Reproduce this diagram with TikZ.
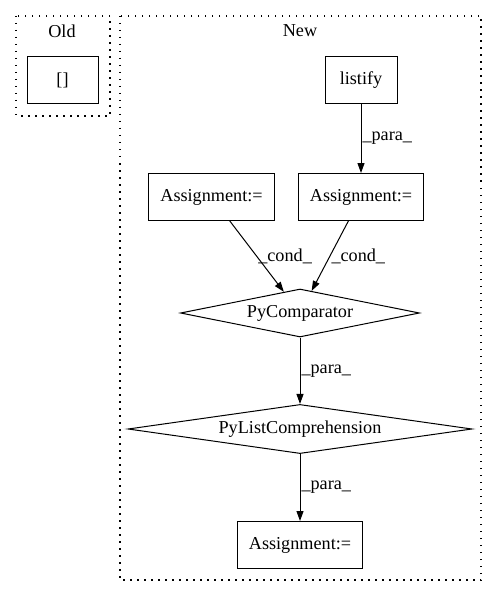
\documentclass[tikz,border=0pt]{standalone}
\usepackage{fontspec}
\setmainfont{Liberation Serif}
\usetikzlibrary{shapes.geometric,arrows.meta}

\tikzset{
  txt/.style={font=\fontsize{18.2}{21}\selectfont},
  box/.style={txt, draw, line width=1pt, rectangle, minimum width=71pt, minimum height=47pt, inner xsep=11.5pt},
  diam/.style={txt, draw, line width=1pt, diamond, aspect=5, inner sep=0pt, minimum height=48pt},
  lab/.style={txt, inner sep=1pt},
  cluster/.style={line width=1.2pt, dash pattern=on 1.5pt off 5.5pt},
  flow/.style={line width=1pt, -{Triangle[length=10pt,width=7pt]}}
}

\begin{document}
\begin{tikzpicture}[x=1pt,y=-1pt]
    \useasboundingbox (0,0) rectangle (496,596);
    % clusters
    \draw[cluster] (16,16) rectangle (110,116);
    \draw[cluster] (120,16) rectangle (481,580);
    \node[txt] (oldlbl) at (62,31) {Old};
    \node[txt] (newlbl) at (300,31) {New};

    \node[box] (brackets) at (62.5,80) {[]};

    \node[box, minimum width=72pt] (listify) at (361,80) {listify};
    \node[box, minimum width=125pt] (asgleft) at (211.5,197) {Assignment:=};
    \node[box, minimum width=125pt] (asgright) at (361,197) {Assignment:=};
    \node[diam, minimum width=239pt] (pycmp) at (300,313) {PyComparator};
    \node[diam, minimum width=344pt] (pylist) at (300,429) {PyListComprehension};
    \node[box, minimum width=125pt] (asgout) at (300,545) {Assignment:=};

    \draw[flow] (listify) -- node[lab, right] {\_para\_} (asgright);
    \draw[flow] (asgleft) -- node[lab, right] {\_cond\_} (pycmp);
    \draw[flow] (asgright) -- node[lab, right] {\_cond\_} (pycmp);
    \draw[flow] (pycmp) -- node[lab, right] {\_para\_} (pylist);
    \draw[flow] (pylist) -- node[lab, right] {\_para\_} (asgout);
\end{tikzpicture}
\end{document}
